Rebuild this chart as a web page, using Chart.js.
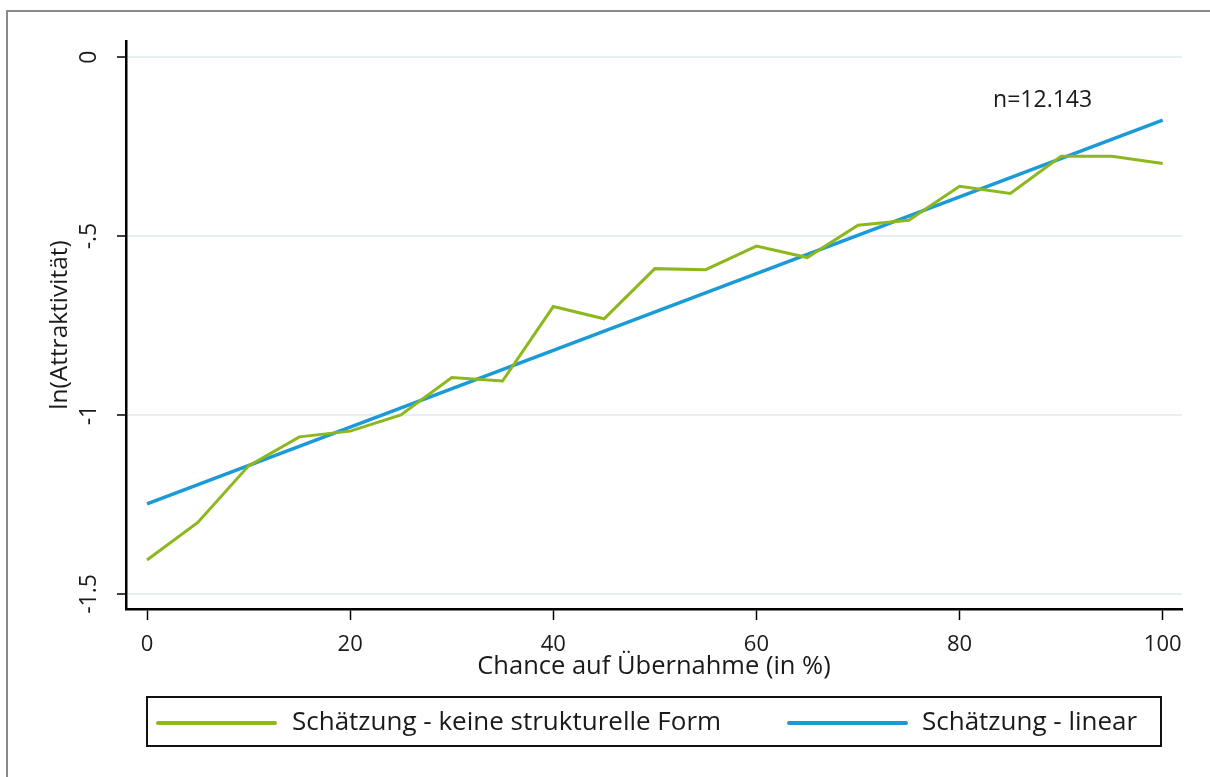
<!doctype html>
<html>
  <head>
    <meta charset="utf-8">
    <title>ln(Attraktivität)</title>
    <script src="https://cdn.jsdelivr.net/npm/chart.js@4.4.1/dist/chart.umd.min.js"></script>
    <style>
      body { margin: 0; background: #fff; }
    </style>
  </head>
  <body>
    <canvas id="joonis" width="1210" height="777"></canvas>
    <script>
      // data
      const chance = [0, 5, 10, 15, 20, 25, 30, 35, 40, 45, 50, 55, 60, 65, 70, 75, 80, 85, 90, 95, 100];
      const schaetzungFrei = [-1.405, -1.30, -1.142, -1.061, -1.045, -1.0, -0.895, -0.905, -0.697, -0.731,
                              -0.591, -0.594, -0.528, -0.56, -0.47, -0.456, -0.361, -0.381, -0.277, -0.277, -0.297];
      const linearX = [0, 100];
      const schaetzungLinear = [-1.248, -0.176];
      const xTicks = [0, 20, 40, 60, 80, 100];
      const yTicks = [0, -0.5, -1, -1.5];
      const yTickLabels = ['0', '-.5', '-1', '-1.5'];
      const notiz = 'n=12.143';

      const schrift = '"Open Sans", Lato, sans-serif';
      const gruen = '#8cb81d';
      const blau = '#1a9ad6';

      const rahmen = {
        id: 'rahmen',
        beforeDraw(chart) {
          const c = chart.ctx;
          c.save();
          c.fillStyle = '#fff';
          c.fillRect(0, 0, chart.width, chart.height);
          c.strokeStyle = '#8a8a8a';
          c.lineWidth = 2;
          c.strokeRect(7, 11, 1300, 900);
          c.restore();
        },
        afterDraw(chart) {
          const c = chart.ctx;
          const ys = chart.scales.y, xs = chart.scales.x;
          c.save();
          c.fillStyle = '#1a1a1a';
          c.font = '23px ' + schrift;
          c.textAlign = 'center';
          c.textBaseline = 'middle';
          // rotated y tick labels
          yTicks.forEach((v, i) => {
            c.save();
            c.translate(89, ys.getPixelForValue(v));
            c.rotate(-Math.PI / 2);
            c.fillText(yTickLabels[i], 0, 0);
            c.restore();
          });
          // n annotation
          c.font = '23px ' + schrift;
          c.textAlign = 'left';
          c.fillText(notiz, xs.getPixelForValue(83.3), ys.getPixelForValue(-0.121));
          // legend box
          c.font = '26px ' + schrift;
          c.strokeStyle = '#111';
          c.lineWidth = 2;
          c.strokeRect(147, 697, 1014, 49);
          const eintraege = [[158, 292], [789, 922]];
          chart.data.datasets.forEach((ds, i) => {
            const [lx, tx] = eintraege[i];
            c.strokeStyle = ds.borderColor;
            c.lineWidth = 4;
            c.lineCap = 'round';
            c.beginPath();
            c.moveTo(lx, 723);
            c.lineTo(lx + 117, 723);
            c.stroke();
            c.fillText(ds.label, tx, 723);
          });
          c.restore();
        }
      };

      new Chart(document.getElementById('joonis'), {
        type: 'line',
        data: {
          datasets: [
            {
              label: 'Schätzung - keine strukturelle Form',
              data: chance.map((x, i) => ({ x: x, y: schaetzungFrei[i] })),
              borderColor: gruen,
              borderWidth: 3,
              pointRadius: 0,
              tension: 0
            },
            {
              label: 'Schätzung - linear',
              data: linearX.map((x, i) => ({ x: x, y: schaetzungLinear[i] })),
              borderColor: blau,
              borderWidth: 3.5,
              pointRadius: 0,
              tension: 0
            }
          ]
        },
        options: {
          responsive: false,
          animation: false,
          devicePixelRatio: 1,
          layout: { padding: { top: 41, right: 28, left: 0, bottom: 68 } },
          plugins: { legend: { display: false }, tooltip: { enabled: false } },
          scales: {
            x: {
              type: 'linear',
              min: -2.07,
              max: 101.9,
              afterBuildTicks: s => { s.ticks = xTicks.map(v => ({ value: v })); },
              afterFit: s => { s.height = 100; },
              border: { color: '#000', width: 2.5 },
              grid: { drawOnChartArea: false, tickLength: 11, tickColor: '#000', tickWidth: 1.5 },
              ticks: { color: '#1a1a1a', padding: 12, maxRotation: 0, font: { family: schrift, size: 22 } },
              title: {
                display: true,
                text: 'Chance auf Übernahme (in %)',
                color: '#1a1a1a',
                font: { family: schrift, size: 25.5 },
                padding: { top: 0, bottom: 27 }
              }
            },
            y: {
              type: 'linear',
              min: -1.542,
              max: 0.045,
              afterBuildTicks: s => { s.ticks = yTicks.map(v => ({ value: v })); },
              afterFit: s => { s.width = 126; },
              border: { color: '#000', width: 2.5 },
              grid: { color: '#e8eff3', lineWidth: 2, tickLength: 9, tickColor: '#000', tickWidth: 1.5 },
              ticks: { display: false },
              title: {
                display: true,
                text: 'ln(Attraktivität)',
                color: '#1a1a1a',
                font: { family: schrift, size: 24.5 },
                padding: { top: 45, bottom: 0 }
              }
            }
          }
        },
        plugins: [rahmen]
      });
    </script>
  </body>
</html>
